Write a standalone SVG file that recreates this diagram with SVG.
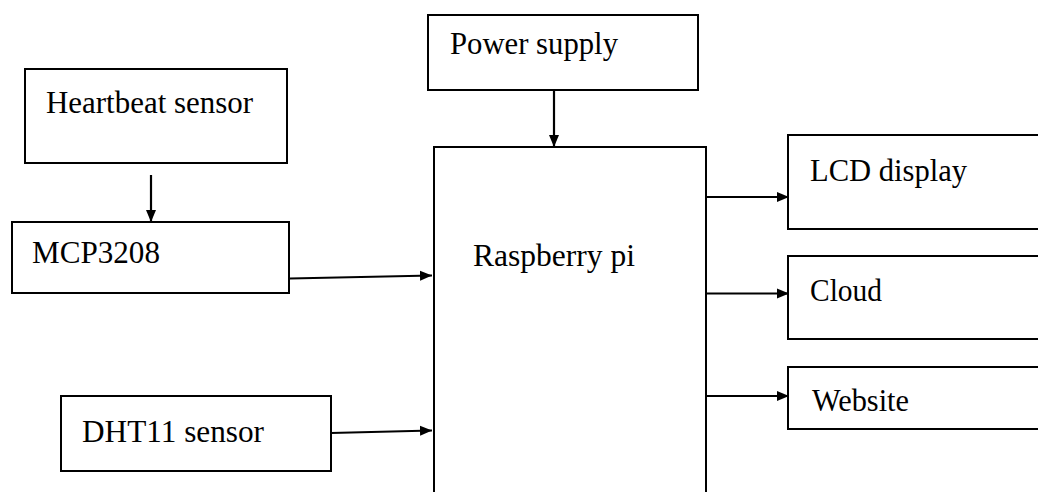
<svg xmlns="http://www.w3.org/2000/svg" width="1038" height="492" viewBox="0 0 1038 492">
<style>
.box{fill:#fff;stroke:#000;stroke-width:2}
.lbl{font-family:'Liberation Serif',Tinos,'Times New Roman',Times,serif;font-size:32px;fill:#000}
.con{fill:none;stroke:#000;stroke-width:2.2}
</style>
<defs>
<marker id="ah" markerUnits="userSpaceOnUse" markerWidth="13" markerHeight="11" refX="12" refY="5.5" orient="auto">
<path d="M0,0.5 L12,5.5 L0,10.5 Z" fill="#000"/>
</marker>
</defs>
<rect width="1038" height="492" fill="#fff"/>
<g id="heartbeat"><rect class="box" x="25" y="69" width="262" height="94"/><text class="lbl" x="46" y="113" textLength="207" lengthAdjust="spacingAndGlyphs">Heartbeat  sensor</text></g>
<g id="mcp3208"><rect class="box" x="12" y="222" width="277" height="71"/><text class="lbl" x="32" y="263" textLength="128" lengthAdjust="spacingAndGlyphs">MCP3208</text></g>
<g id="dht11"><rect class="box" x="61" y="396" width="270" height="75"/><text class="lbl" x="82" y="442" textLength="182" lengthAdjust="spacingAndGlyphs">DHT11  sensor</text></g>
<g id="power"><rect class="box" x="428" y="15" width="270" height="75"/><text class="lbl" x="450" y="54" textLength="168" lengthAdjust="spacingAndGlyphs">Power supply</text></g>
<g id="raspberry"><rect class="box" x="434" y="147" width="272" height="360"/><text class="lbl" x="473" y="266" textLength="162" lengthAdjust="spacingAndGlyphs">Raspberry  pi</text></g>
<g id="lcd"><rect class="box" x="788" y="135" width="260" height="94"/><text class="lbl" x="810" y="181" textLength="157" lengthAdjust="spacingAndGlyphs">LCD display</text></g>
<g id="cloud"><rect class="box" x="788" y="256" width="260" height="83"/><text class="lbl" x="810" y="301" textLength="72" lengthAdjust="spacingAndGlyphs">Cloud</text></g>
<g id="website"><rect class="box" x="788" y="367" width="260" height="62"/><text class="lbl" x="812" y="411" textLength="97" lengthAdjust="spacingAndGlyphs">Website</text></g>
<g id="connectors">
<line class="con" x1="151" y1="175" x2="151" y2="222" marker-end="url(#ah)"/>
<line class="con" x1="554" y1="90" x2="554" y2="147" marker-end="url(#ah)"/>
<line class="con" x1="290" y1="278.5" x2="432" y2="275.5" marker-end="url(#ah)"/>
<line class="con" x1="331" y1="433" x2="432" y2="430.5" marker-end="url(#ah)"/>
<line class="con" x1="706" y1="197" x2="789" y2="197" marker-end="url(#ah)"/>
<line class="con" x1="706" y1="293.5" x2="789" y2="293.5" marker-end="url(#ah)"/>
<line class="con" x1="706" y1="396" x2="789" y2="396" marker-end="url(#ah)"/>
</g>
</svg>
